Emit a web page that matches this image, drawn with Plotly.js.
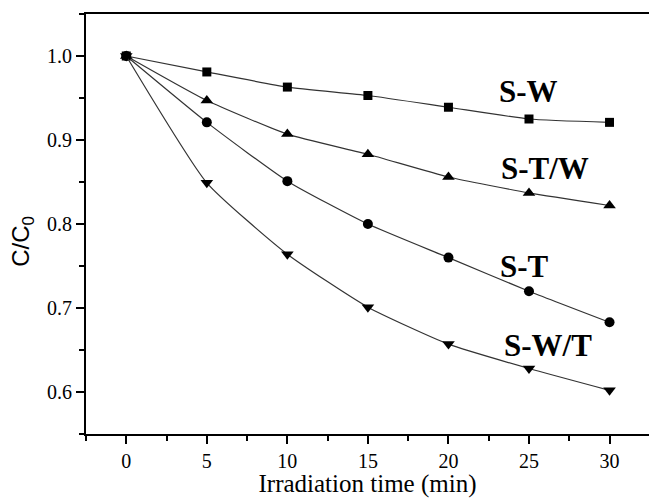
<!DOCTYPE html>
<html>
<head>
<meta charset="utf-8">
<script src="https://cdn.plot.ly/plotly-3.0.1.min.js"></script>
<style>html,body{margin:0;padding:0;background:#fff;}#chart{width:649px;height:498px;}</style>
</head>
<body>
<div id="chart"></div>
<script>
var times = [0, 5, 10, 15, 20, 25, 30];
var sW  = [1.0, 0.981, 0.963, 0.953, 0.939, 0.925, 0.921];
var sTW = [1.0, 0.947, 0.907, 0.883, 0.856, 0.837, 0.822];
var sT  = [1.0, 0.921, 0.851, 0.800, 0.760, 0.720, 0.683];
var sWT = [1.0, 0.849, 0.764, 0.701, 0.657, 0.628, 0.602];
var seriesNames = ["S-W", "S-T/W", "S-T", "S-W/T"];
var labelX = [25.0, 26.0, 24.7, 26.15];
var labelY = [0.958, 0.8665, 0.750, 0.655];
var xTickVals = [0, 5, 10, 15, 20, 25, 30];
var yTickVals = [0.6, 0.7, 0.8, 0.9, 1.0];
var yTickText = ["0.6", "0.7", "0.8", "0.9", "1.0"];

var symbols = ["square", "triangle-up", "circle", "triangle-down"];
var allY = [sW, sTW, sT, sWT];
var sizes = [9, 11, 10, 11];

var traces = allY.map(function (ys, i) {
  return {
    x: times, y: ys, name: seriesNames[i], type: "scatter", mode: "lines+markers",
    line: {color: "#333", width: 1.2, shape: "spline", smoothing: 0.5},
    marker: {symbol: symbols[i], size: sizes[i], color: "#000"},
    showlegend: false
  };
});

var annotations = seriesNames.map(function (n, i) {
  return {x: labelX[i], y: labelY[i], xref: "x", yref: "y", text: "<b>" + n + "</b>",
    showarrow: false, font: {family: "Liberation Serif", size: 31, color: "#000"}};
});
annotations.push({
  x: -0.112, y: 0.46, xref: "paper", yref: "paper", text: "C/C<sub>0</sub>",
  textangle: -90, showarrow: false, xanchor: "center", yanchor: "middle",
  font: {family: "Liberation Sans", size: 24, color: "#000"}
});

var layout = {
  width: 649, height: 498,
  margin: {l: 86, r: 0, t: 14, b: 64},
  paper_bgcolor: "#fff", plot_bgcolor: "#fff",
  font: {family: "Liberation Serif", color: "#000"},
  xaxis: {
    range: [-2.5, 32.45], tickvals: xTickVals,
    ticks: "outside", ticklen: 8, tickwidth: 2, tickcolor: "#000",
    minor: {tickvals: [-2.5, 2.5, 7.5, 12.5, 17.5, 22.5, 27.5, 32.5], ticks: "outside", ticklen: 5, tickwidth: 2, tickcolor: "#000"},
    showline: true, linewidth: 2, linecolor: "#000", mirror: true,
    showgrid: false, zeroline: false,
    tickfont: {family: "Liberation Serif", size: 20, color: "#000"},
    title: {text: "Irradiation time (min)", font: {family: "Liberation Serif", size: 25, color: "#000"}, standoff: 5}
  },
  yaxis: {
    range: [0.55, 1.05], tickvals: yTickVals, ticktext: yTickText,
    ticks: "outside", ticklen: 8, tickwidth: 2, tickcolor: "#000",
    minor: {tickvals: [0.55, 0.65, 0.75, 0.85, 0.95, 1.05], ticks: "outside", ticklen: 5, tickwidth: 2, tickcolor: "#000"},
    showline: true, linewidth: 2, linecolor: "#000", mirror: false,
    showgrid: false, zeroline: false,
    tickfont: {family: "Liberation Serif", size: 20, color: "#000"}
  },
  annotations: annotations
};

Plotly.newPlot("chart", traces, layout, {displayModeBar: false, staticPlot: true});
</script>
</body>
</html>
